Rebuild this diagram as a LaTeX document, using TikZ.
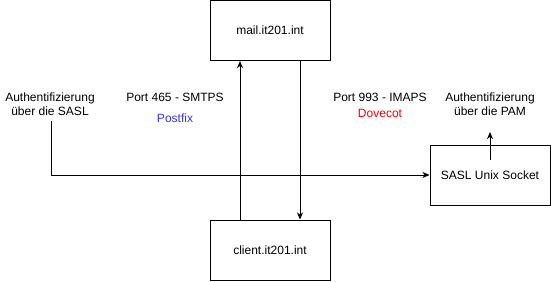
\documentclass[tikz,border=0pt]{standalone}
\usepackage{fontspec}
\setmainfont{Liberation Sans}
\usetikzlibrary{arrows.meta}
\definecolor{pfblue}{HTML}{3333FF}
\definecolor{dcred}{HTML}{FF0000}
\begin{document}
\begin{tikzpicture}[x=1pt,y=-1pt,
  box/.style={draw, line width=1pt, minimum width=120pt, minimum height=60pt, inner sep=0pt, font=\fontsize{12}{14}\selectfont},
  lbl/.style={font=\fontsize{12}{14}\selectfont, align=center, inner sep=0pt},
  conn/.style={line width=1pt, -{Stealth[length=7pt,width=6pt,inset=2pt]}}]
\useasboundingbox (0,0) rectangle (551,281);
\node[box] (mail) at (270,30.5) {mail.it201.int};
\node[box] (client) at (270,250) {client.it201.int};
\node[box] (sasl) at (490,175) {SASL Unix Socket};
\node[lbl] (authsasl) at (50,104) {Authentifizierung\\über die SASL};
\node[lbl] (authpam) at (490,104) {Authentifizierung\\über die PAM};
\node[lbl] (smtps) at (175,97) {Port 465 - SMTPS};
\node[lbl, text=pfblue] (postfix) at (175,118) {Postfix};
\node[lbl] (imaps) at (380,97) {Port 993 - IMAPS};
\node[lbl, text=dcred] (dovecot) at (380,113) {Dovecot};
\coordinate (saslstart) at (51,121);
\coordinate (pamstart) at (490,160);
\coordinate (pamend) at (490,132);
\draw[conn] ([xshift=-30pt]client.north) -- ([xshift=-30pt]mail.south);
\draw[conn] ([xshift=30pt]mail.south) -- ([xshift=30pt]client.north);
\draw[conn] (saslstart) -- (saslstart |- sasl.west) -- (sasl.west);
\draw[conn] (pamstart) -- (pamend);
\end{tikzpicture}
\end{document}
